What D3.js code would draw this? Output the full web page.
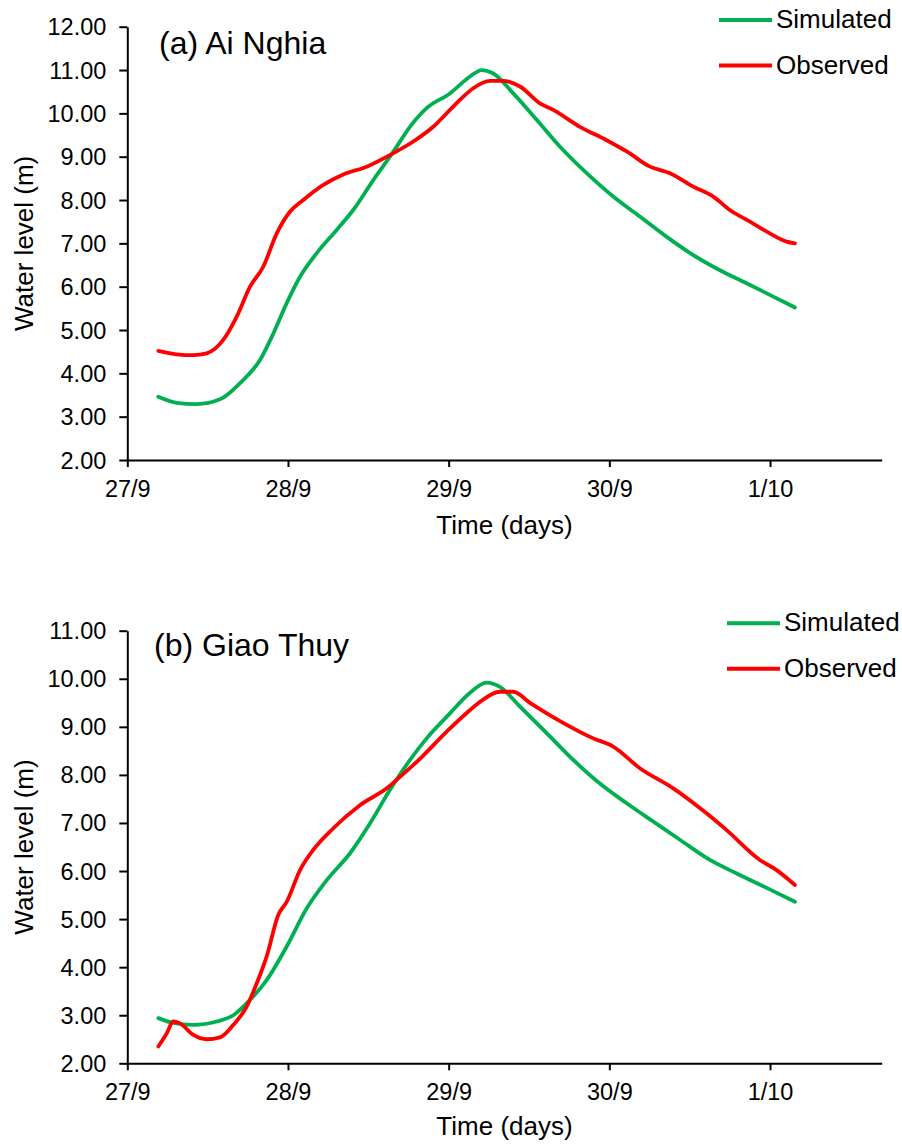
<!DOCTYPE html>
<html>
<head>
<meta charset="utf-8">
<script src="https://cdn.jsdelivr.net/npm/d3@7"></script>
<style>
  html, body { margin: 0; padding: 0; background: #fff; }
  svg { display: block; font-family: "Liberation Sans", Arial, sans-serif; }
</style>
</head>
<body>
<svg id="chart" width="902" height="1144"></svg>
<script>
// ---- Data (time in days since 27/9 00:00, water level in m) ----
const xTickValues = [0, 1, 2, 3, 4];
const xTickLabels = ["27/9", "28/9", "29/9", "30/9", "1/10"];
const yTicksA = [2, 3, 4, 5, 6, 7, 8, 9, 10, 11, 12];
const yTicksB = [2, 3, 4, 5, 6, 7, 8, 9, 10, 11];
const seriesNames = ["Simulated", "Observed"];

// (a) Ai Nghia - Simulated
const simTimeA = [0.193, 0.307, 0.432, 0.577, 0.70, 0.826, 0.909, 0.992, 1.075, 1.178, 1.303, 1.406, 1.531, 1.655, 1.759, 1.863, 2.008, 2.133, 2.205, 2.278, 2.402, 2.548, 2.693, 2.859, 3.024, 3.190, 3.357, 3.522, 3.688, 3.854, 4.020, 4.155];
const simA     = [3.46, 3.32, 3.29, 3.40, 3.77, 4.31, 4.92, 5.62, 6.23, 6.77, 7.31, 7.77, 8.46, 9.11, 9.69, 10.12, 10.46, 10.85, 11.00, 10.92, 10.46, 9.85, 9.23, 8.62, 8.08, 7.62, 7.15, 6.73, 6.38, 6.08, 5.77, 5.52];
// (a) Ai Nghia - Observed
const obsTimeA = [0.193, 0.307, 0.411, 0.494, 0.597, 0.681, 0.764, 0.846, 0.930, 1.012, 1.095, 1.220, 1.344, 1.490, 1.635, 1.780, 1.904, 2.008, 2.070, 2.153, 2.257, 2.340, 2.444, 2.568, 2.651, 2.817, 2.983, 3.108, 3.253, 3.377, 3.522, 3.647, 3.750, 3.875, 3.999, 4.103, 4.155];
const obsA     = [4.52, 4.44, 4.42, 4.46, 4.77, 5.31, 6.00, 6.46, 7.23, 7.73, 8.00, 8.35, 8.59, 8.77, 9.04, 9.35, 9.69, 10.08, 10.31, 10.58, 10.75, 10.75, 10.62, 10.23, 10.08, 9.69, 9.38, 9.12, 8.77, 8.62, 8.31, 8.08, 7.77, 7.50, 7.23, 7.04, 7.00];

// (b) Giao Thuy - Simulated
const simTimeB = [0.193, 0.286, 0.411, 0.556, 0.660, 0.764, 0.867, 0.992, 1.116, 1.241, 1.386, 1.510, 1.635, 1.759, 1.863, 2.008, 2.133, 2.236, 2.319, 2.444, 2.610, 2.776, 2.941, 3.108, 3.273, 3.439, 3.626, 3.792, 3.979, 4.155];
const simB     = [2.94, 2.84, 2.80, 2.87, 3.00, 3.32, 3.73, 4.43, 5.22, 5.81, 6.37, 6.99, 7.69, 8.31, 8.76, 9.28, 9.71, 9.92, 9.83, 9.42, 8.87, 8.31, 7.82, 7.41, 7.03, 6.65, 6.23, 5.95, 5.65, 5.36];
// (b) Giao Thuy - Observed
const obsTimeB = [0.193, 0.245, 0.286, 0.328, 0.411, 0.494, 0.577, 0.660, 0.743, 0.805, 0.867, 0.940, 0.992, 1.075, 1.157, 1.282, 1.448, 1.614, 1.697, 1.801, 1.988, 2.133, 2.195, 2.319, 2.402, 2.506, 2.693, 2.900, 3.024, 3.190, 3.398, 3.605, 3.730, 3.937, 4.041, 4.155];
const obsB     = [2.35, 2.62, 2.87, 2.83, 2.59, 2.50, 2.54, 2.80, 3.18, 3.66, 4.22, 5.09, 5.36, 6.02, 6.44, 6.89, 7.37, 7.72, 7.96, 8.27, 8.90, 9.35, 9.52, 9.73, 9.73, 9.50, 9.12, 8.76, 8.59, 8.14, 7.72, 7.20, 6.85, 6.23, 6.02, 5.71];

const colors = { Simulated: "#00B050", Observed: "#FF0000" };
const FONT = '"Liberation Sans", Arial, sans-serif';

const svg = d3.select("#chart");

function zip(ts, vs) { return ts.map((t, i) => ({ t: t, v: vs[i] })); }

function drawPanel(cfg) {
  const g = svg.append("g");
  const x = d3.scaleLinear().domain([0, 4.695]).range([cfg.left, cfg.right]);
  const y = d3.scaleLinear().domain([cfg.yTicks[0], cfg.yTicks[cfg.yTicks.length - 1]]).range([cfg.bottom, cfg.top]);

  // axes
  const xAxis = d3.axisBottom(x).tickValues(xTickValues)
    .tickFormat((d, i) => xTickLabels[i]).tickSizeInner(7).tickSizeOuter(0).tickPadding(13);
  const yAxis = d3.axisLeft(y).tickValues(cfg.yTicks)
    .tickFormat(d3.format(".2f")).tickSizeInner(8).tickSizeOuter(0).tickPadding(13);

  const gx = g.append("g").attr("transform", `translate(0,${cfg.bottom})`).call(xAxis);
  const gy = g.append("g").attr("transform", `translate(${cfg.left},0)`).call(yAxis);
  [gx, gy].forEach(a => {
    a.selectAll("path.domain").attr("stroke", "#000").attr("stroke-width", 2);
    a.selectAll(".tick line").attr("stroke", "#000").attr("stroke-width", 2);
    a.selectAll(".tick text").attr("fill", "#000").style("font-family", FONT).style("font-size", "23.5px");
  });
  gy.selectAll(".tick text").attr("dy", "0.34em");

  // lines
  const line = d3.line().x(d => x(d.t)).y(d => y(d.v)).curve(d3.curveMonotoneX);
  const series = [
    { name: "Simulated", data: zip(cfg.simT, cfg.sim) },
    { name: "Observed", data: zip(cfg.obsT, cfg.obs) }
  ];
  series.forEach(s => {
    g.append("path").datum(s.data)
      .attr("d", line)
      .attr("fill", "none")
      .attr("stroke", colors[s.name])
      .attr("stroke-width", 3.8)
      .attr("stroke-linejoin", "round")
      .attr("stroke-linecap", "round");
  });

  // title
  g.append("text").attr("x", cfg.titleX).attr("y", cfg.titleY)
    .style("font-family", FONT).style("font-size", "32px").attr("fill", "#000")
    .text(cfg.title);

  // axis titles
  g.append("text")
    .attr("x", (cfg.left + cfg.right) / 2).attr("y", cfg.xTitleY)
    .attr("text-anchor", "middle")
    .style("font-family", FONT).style("font-size", "26px").attr("fill", "#000")
    .text("Time (days)");
  g.append("text")
    .attr("transform", `translate(33,${(cfg.top + cfg.bottom) / 2}) rotate(-90)`)
    .attr("text-anchor", "middle")
    .style("font-family", FONT).style("font-size", "26px").attr("fill", "#000")
    .text("Water level (m)");

  // legend
  seriesNames.forEach((name, i) => {
    const ly = cfg.legendY + i * cfg.legendGap;
    g.append("line")
      .attr("x1", cfg.legendX).attr("x2", cfg.legendX + 53)
      .attr("y1", ly).attr("y2", ly)
      .attr("stroke", colors[name]).attr("stroke-width", 4);
    g.append("text")
      .attr("x", cfg.legendX + 57).attr("y", ly + 8)
      .style("font-family", FONT).style("font-size", "26px").attr("fill", "#000")
      .text(name);
  });
}

drawPanel({
  left: 127.3, right: 881.7, top: 26.7, bottom: 460,
  yTicks: yTicksA, simT: simTimeA, sim: simA, obsT: obsTimeA, obs: obsA,
  title: "(a) Ai Nghia", titleX: 159, titleY: 54,
  xTitleY: 534, legendX: 719, legendY: 20, legendGap: 45.5
});

drawPanel({
  left: 127.3, right: 881.7, top: 630.7, bottom: 1063.3,
  yTicks: yTicksB, simT: simTimeB, sim: simB, obsT: obsTimeB, obs: obsB,
  title: "(b) Giao Thuy", titleX: 154, titleY: 656,
  xTitleY: 1135, legendX: 727, legendY: 623.3, legendGap: 45.5
});
</script>
</body>
</html>
